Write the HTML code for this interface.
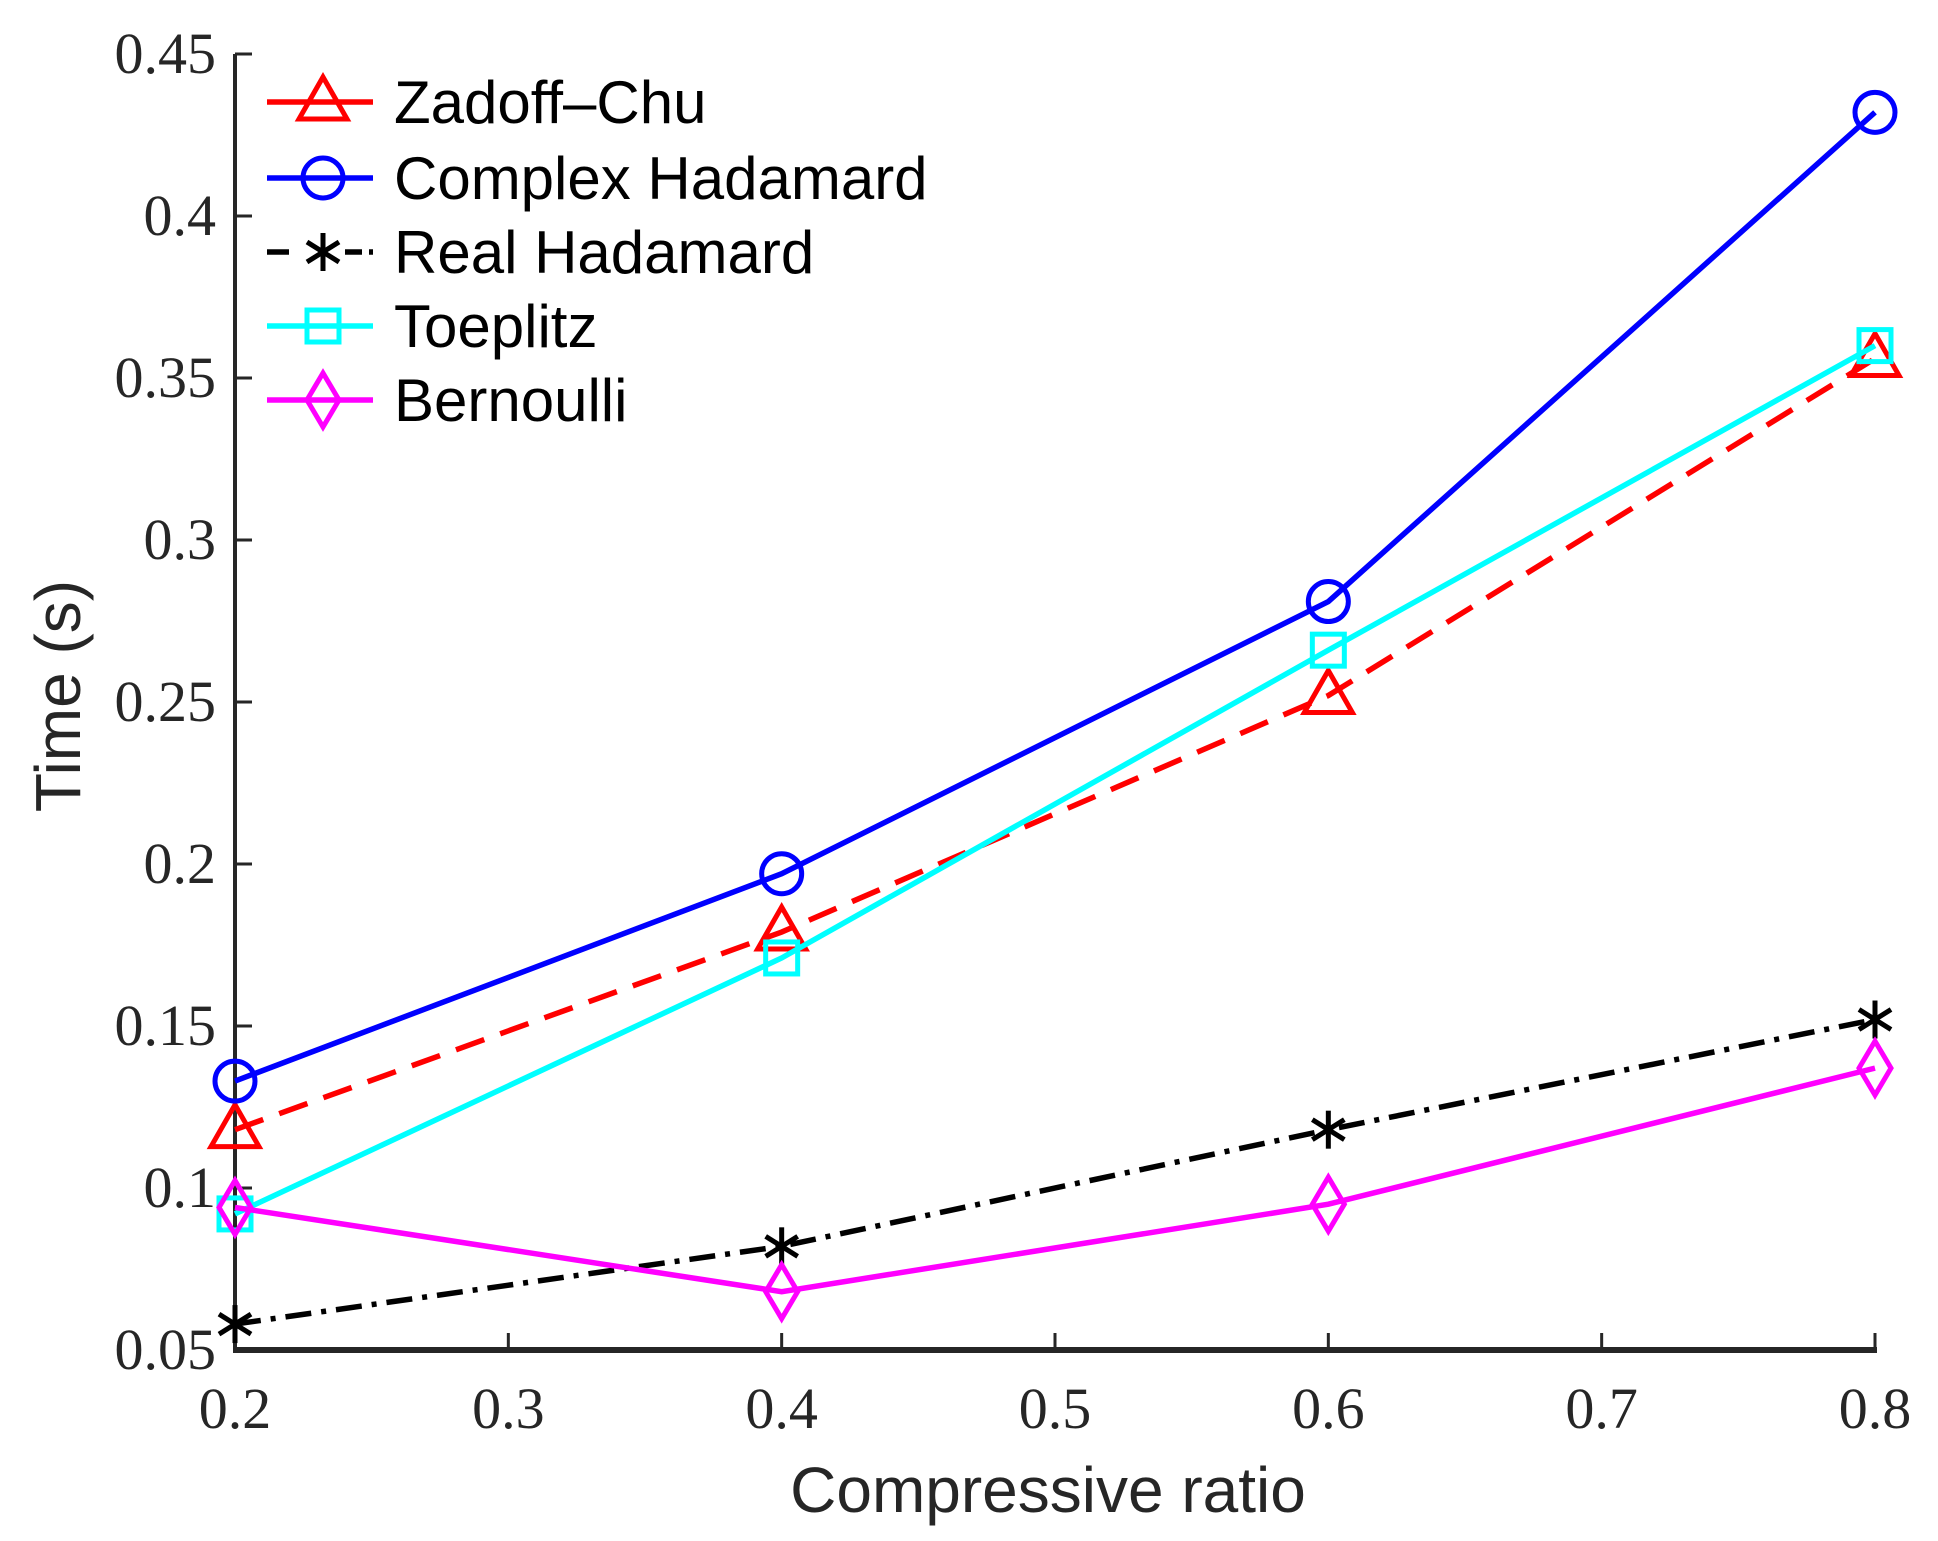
<!DOCTYPE html>
<html><head><meta charset="utf-8"><style>body{margin:0;background:#fff}svg{display:block}</style></head>
<body>
<svg id="chart" width="1938" height="1541" xmlns="http://www.w3.org/2000/svg">
<g id="axes"></g><g id="series"></g><g id="legend"></g>
<text x="1048" y="1512" text-anchor="middle" font-family="Liberation Sans, sans-serif" font-size="64" fill="#262626">Compressive ratio</text>
<text transform="translate(80,696) rotate(-90)" text-anchor="middle" font-family="Liberation Sans, sans-serif" font-size="64" fill="#262626">Time (s)</text>
</svg>
<script>
const xValues=[0.2,0.4,0.6,0.8];
const zadoff=[0.118,0.179,0.252,0.356];
const complexH=[0.133,0.197,0.281,0.432];
const realH=[0.058,0.082,0.118,0.152];
const toeplitz=[0.092,0.171,0.266,0.360];
const bernoulli=[0.094,0.068,0.095,0.137];
const xTicks=[0.2,0.3,0.4,0.5,0.6,0.7,0.8];
const yTicks=[0.05,0.1,0.15,0.2,0.25,0.3,0.35,0.4,0.45];
const seriesNames=["Zadoff\u2013Chu","Complex Hadamard","Real Hadamard","Toeplitz","Bernoulli"];

const NS="http://www.w3.org/2000/svg";
const L=235,R=1875,T=54,B=1350;
const sx=v=>L+(v-0.2)/0.6*(R-L);
const sy=v=>B-(v-0.05)/0.4*(B-T);
function mk(tag,attrs,parent){const e=document.createElementNS(NS,tag);for(const k in attrs)e.setAttribute(k,attrs[k]);parent.appendChild(e);return e;}
const axes=document.getElementById('axes');
let e=mk('line',{x1:L,y1:T,x2:L,y2:B+2,stroke:'#262626','stroke-width':4},axes);


e=mk('line',{x1:L-2,y1:B,x2:R+2,y2:B,stroke:'#262626','stroke-width':6},axes);


xTicks.forEach(v=>{
  const t=mk('line',{x1:sx(v),y1:B,x2:sx(v),y2:B-17,stroke:'#262626','stroke-width':3},axes);
  
  
  const tx=mk('text',{x:sx(v),y:1428,'text-anchor':'middle','font-family':'Liberation Serif, serif','font-size':58,fill:'#262626'},axes);
  tx.textContent=String(v);
  
  
});
yTicks.forEach(v=>{
  const t=mk('line',{x1:L,y1:sy(v),x2:L+17,y2:sy(v),stroke:'#262626','stroke-width':3},axes);
  
  
  const tx=mk('text',{x:216,y:sy(v)+19,'text-anchor':'end','font-family':'Liberation Serif, serif','font-size':58,fill:'#262626'},axes);
  tx.textContent=String(v);
  
  
});
function marker(type,x,y,c,p){
  const sw=5;
  if(type==='tri')return mk('polygon',{points:`${x},${y-25} ${x-24},${y+17} ${x+24},${y+17}`,fill:'none',stroke:c,'stroke-width':sw},p);
  if(type==='circ')return mk('circle',{cx:x,cy:y,r:20,fill:'none',stroke:c,'stroke-width':sw},p);
  if(type==='sq')return mk('rect',{x:x-16,y:y-16,width:32,height:32,fill:'none',stroke:c,'stroke-width':sw},p);
  if(type==='dia')return mk('polygon',{points:`${x},${y-27} ${x+16},${y} ${x},${y+27} ${x-16},${y}`,fill:'none',stroke:c,'stroke-width':sw},p);
  const g=mk('g',{stroke:c,'stroke-width':5},p);
  mk('line',{x1:x,y1:y-19,x2:x,y2:y+19},g);
  mk('line',{x1:x-16,y1:y-10,x2:x+16,y2:y+10},g);
  mk('line',{x1:x-16,y1:y+10,x2:x+16,y2:y-10},g);
  return g;
}
const defs=[
 {d:zadoff,c:'#ff0000',m:'tri',dash:'30,17',n:'zadoff-chu'},
 {d:complexH,c:'#0000ff',m:'circ',dash:'',n:'complex-hadamard'},
 {d:realH,c:'#000000',m:'star',dash:'26,10,5,10',n:'real-hadamard'},
 {d:toeplitz,c:'#00ffff',m:'sq',dash:'',n:'toeplitz'},
 {d:bernoulli,c:'#ff00ff',m:'dia',dash:'',n:'bernoulli'}];
const sg=document.getElementById('series');
const lg=document.getElementById('legend');
const legY=[102,178,252,326,400];
defs.forEach((s,i)=>{
  const g=mk('g',{},sg);
  
  
  const pl=mk('polyline',{points:s.d.map((v,j)=>sx(xValues[j])+','+sy(v)).join(' '),fill:'none',stroke:s.c,'stroke-width':5.5,'stroke-dasharray':s.dash},g);
  
  
  s.d.forEach((v,j)=>{const m=marker(s.m,sx(xValues[j]),sy(v),s.c,g);
    
    });
  const le=mk('g',{},lg);
  
  
  mk('line',{x1:267,y1:legY[i],x2:373,y2:legY[i],stroke:s.c,'stroke-width':5.5,'stroke-dasharray':s.m==='star'?'22,56,17,7,5,100':''},le);
  marker(s.m,323,legY[i],s.c,le);
  const t=mk('text',{x:394,y:legY[i]+21,'font-family':'Liberation Sans, sans-serif','font-size':60,fill:'#000'},le);
  t.textContent=seriesNames[i];
});
</script>
</body></html>
